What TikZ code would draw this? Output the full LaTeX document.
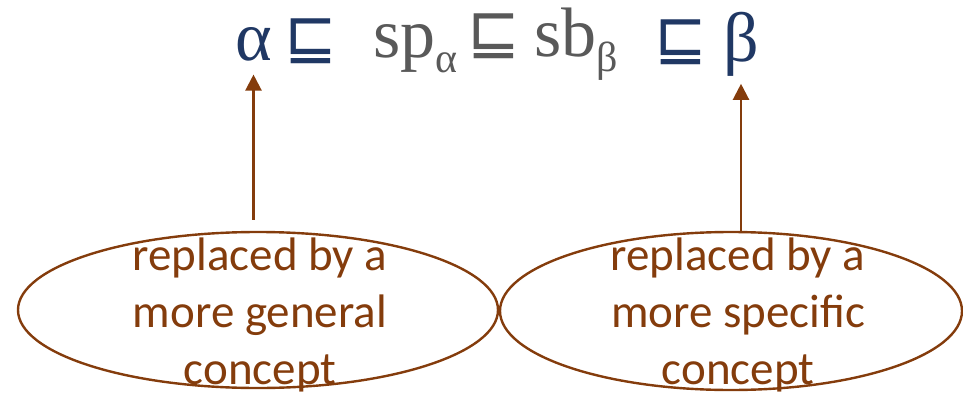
\documentclass[tikz,border=0pt]{standalone}
\usepackage{fontspec}
\setmainfont{Liberation Serif}
\newfontfamily\calfont{Carlito}
\newfontfamily\opfont{DejaVu Sans}
\usetikzlibrary{arrows.meta, shapes.geometric}
\definecolor{symBlue}{HTML}{203864}
\definecolor{symGray}{HTML}{595959}
\definecolor{noteBrown}{HTML}{843C0C}

\begin{document}
\begin{tikzpicture}[x=1pt, y=-1pt,
    sym/.style={inner sep=0pt, text=symBlue, font=\fontsize{70}{70}\selectfont},
    rel/.style={inner sep=0pt, font=\opfont\fontsize{63}{63}\selectfont},
    bubble/.style={ellipse, draw=noteBrown, line width=2.4pt, inner sep=0pt},
    note/.style={align=center, text=noteBrown, font=\calfont\fontsize{47}{57}\selectfont, inner sep=0pt},
    arr/.style={-{Triangle[width=16pt,length=16pt]}, noteBrown, line width=2.2pt}]
    \useasboundingbox (0,0) rectangle (963,396);
    % the chain
    \node[sym] (alpha) at (253.5,44.5) {α};
    \node[rel, text=symBlue] (rel1) at (310.5,41) {⊑};
    \node[sym, text=symGray] (spa) at (415.5,49) {sp\raisebox{-15pt}{\fontsize{42}{42}\selectfont α}};
    \node[rel, text=symGray] (rel2) at (494,36) {⊑};
    \node[sym, text=symGray] (sbb) at (576.5,44.5) {sb\raisebox{-15pt}{\fontsize{42}{42}\selectfont β}};
    \node[rel, text=symBlue] (rel3) at (681,42) {⊑};
    \node[sym] (beta) at (741,44.5) {β};
    % the two notes
    \node[bubble, minimum width=480pt, minimum height=156pt] (gen) at (258,310) {};
    \node[note] (gentext) at (260,315) {replaced by a\\more general\\concept};
    \node[bubble, minimum width=462pt, minimum height=158pt] (spec) at (731,311) {};
    \node[note] (spectext) at (738,315) {replaced by a\\more specific\\concept};
    \draw[arr] ([yshift=11pt]gen.north -| alpha) -- ([yshift=-13pt]alpha.south);
    \draw[arr] (spec.north -| beta) -- ([yshift=-7pt]beta.south);
\end{tikzpicture}
\end{document}
